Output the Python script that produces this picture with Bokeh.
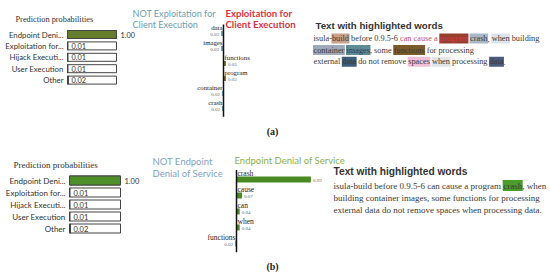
from bokeh.plotting import figure
from bokeh.models import Range1d, ColumnDataSource
from bokeh.embed import file_html
from bokeh.resources import INLINE
from bokeh.core.properties import value

# ---------------- data ----------------
prob_classes = ["Endpoint Deni...", "Exploitation for...", "Hijack Executi...", "User Execution", "Other"]
prob_a = [1.00, 0.01, 0.01, 0.01, 0.02]
prob_b = [1.00, 0.01, 0.01, 0.01, 0.02]

feat_a_words = ["data", "images", "functions", "program", "container", "crash"]
feat_a_vals = [-0.03, -0.03, 0.03, 0.03, -0.02, -0.02]
feat_a_titles = (["NOT Exploitation for", "Client Execution"], ["Exploitation for", "Client Execution"])

feat_b_words = ["crash", "cause", "can", "when", "functions"]
feat_b_vals = [0.93, 0.07, 0.04, 0.04, -0.02]
feat_b_titles = (["NOT Endpoint", "Denial of Service"], ["Endpoint Denial of Service"])

para_a = ["isula-build before 0.9.5-6 can cause a program crash, when building",
          "container images, some functions for processing",
          "external data do not remove spaces when processing data."]
hl_a = [(0, "build", 0, "#c9a28c"), (0, "program", 0, "#94402f"), (0, "crash", 0, "#a9b8c6"),
        (0, "when", 0, "#dde3ea"), (1, "container", 0, "#9ea9b9"), (1, "images", 0, "#5e8b96"),
        (1, "functions", 0, "#7d5a2c"), (2, "data", 0, "#3f5b7a"), (2, "spaces", 0, "#f2c0d6"),
        (2, "when", 0, "#e2e4e8"), (2, "data", 1, "#4b5b7c")]
fg_a = [(0, "can cause a", 0, "#c45070"), (0, "program", 0, "#d83a4a")]

para_b = ["isula-build before 0.9.5-6 can cause a program crash, when",
          "building container images, some functions for processing",
          "external data do not remove spaces when processing data."]
hl_b = [(0, "crash", 0, "#4c9c2a")]
fg_b = []

# ---------------- canvas ----------------
W, H = 550, 276
OX, OY = 0, 0

p = figure(width=W, height=H, x_range=Range1d(0, W), y_range=Range1d(H, 0),
           output_backend="svg", toolbar_location=None, min_border=0,
           x_axis_location=None, y_axis_location=None, outline_line_color=None)
p.grid.visible = False
p.background_fill_color = "white"
p.border_fill_color = "white"

SERIF = value("Liberation Serif")
SANS = value("Lato")
ARIAL = value("Liberation Sans")
DARK = "#333333"


def xr(px0, ppu):
    return Range1d(start=(0 - px0) / ppu, end=(W - px0) / ppu)


def yr(py0, dy):
    return Range1d(start=(H - py0) / dy, end=(0 - py0) / dy)


def label(x, y, txt, size, color=DARK, font=SANS, style="normal", align="left"):
    p.text(x=[x - OX], y=[y - OY], text=[txt], text_font=font, text_font_size=f"{size}px",
           text_color=color, text_font_style=style, text_align=align, text_baseline="middle")


def prob_chart(key, vals, zero_x, ppu, y0, dy, bar_h, fill, title_xy, title_size, lab_size):
    p.extra_x_ranges[key + "x"] = xr(zero_x - OX, ppu)
    p.extra_y_ranges[key + "y"] = yr(y0 - OY, dy)
    n = len(vals)
    src = ColumnDataSource(dict(
        y=list(range(n)), v=vals, full=[1.0] * n, lab=prob_classes,
        txt=[f"{v:.2f}" for v in vals],
        tx=[1.0 if v > 0.5 else 0.0 for v in vals],
    ))
    kw = dict(source=src, x_range_name=key + "x", y_range_name=key + "y")
    p.hbar(y="y", left=0, right="full", height=bar_h / dy, fill_color="white",
           line_color="#444444", line_width=1, **kw)
    p.hbar(y="y", left=0, right="v", height=bar_h / dy, fill_color=fill,
           line_color="#444444", line_width=1, **kw)
    p.text(x=0, y="y", text="lab", x_offset=-4, text_align="right", text_baseline="middle",
           text_font=SANS, text_font_size=f"{lab_size}px", text_color=DARK, **kw)
    p.text(x="tx", y="y", text="txt", x_offset=4, text_align="left", text_baseline="middle",
           text_font=SANS, text_font_size=f"{lab_size - 0.5}px", text_color=DARK, **kw)
    label(title_xy[0], title_xy[1], "Prediction probabilities", title_size, font=SERIF)


def feat_chart(key, words, vals, axis_x, ppu, y0, dy, bar_h, pos_c, neg_c, lab_size):
    p.extra_x_ranges[key + "x"] = xr(axis_x - OX, ppu)
    p.extra_y_ranges[key + "y"] = yr(y0 - OY, dy)
    n = len(vals)
    src = ColumnDataSource(dict(
        y=list(range(n)), v=vals, w=words,
        col=[pos_c if v > 0 else neg_c for v in vals],
        al=["left" if v > 0 else "right" for v in vals],
        lo=[1 if v > 0 else -1 for v in vals],
        vo=[2 if v > 0 else -2 for v in vals],
        txt=[f"{abs(v):.2f}" for v in vals],
    ))
    kw = dict(source=src, x_range_name=key + "x", y_range_name=key + "y")
    p.hbar(y="y", left=0, right="v", height=bar_h / dy, fill_color="col", line_color=None, **kw)
    p.segment(x0=[0], y0=[-0.6], x1=[0], y1=[n - 0.45], line_color="#111111", line_width=1.5,
              x_range_name=key + "x", y_range_name=key + "y")
    p.text(x=0, y="y", text="w", x_offset="lo", y_offset=-6, text_align="al",
           text_baseline="middle", text_font=SERIF, text_font_size=f"{lab_size}px",
           text_color="#222222", **kw)
    p.text(x="v", y="y", text="txt", x_offset="vo", y_offset=1, text_align="al",
           text_baseline="middle", text_font=SERIF, text_font_size="5px",
           text_color="#666666", **kw)


TIMES = {' ': 250, '-': 333, '.': 250, ',': 250,
         'a': 444, 'b': 500, 'c': 444, 'd': 500, 'e': 444, 'f': 333, 'g': 500, 'h': 500,
         'i': 278, 'j': 278, 'k': 500, 'l': 278, 'm': 778, 'n': 500, 'o': 500, 'p': 500,
         'q': 500, 'r': 333, 's': 389, 't': 278, 'u': 500, 'v': 500, 'w': 722, 'x': 500,
         'y': 500, 'z': 444}


def tw(s):
    return sum(TIMES.get(c, 500) for c in s) / 1000.0


def find_occ(line, word, occ):
    pos = -1
    for _ in range(occ + 1):
        pos = line.find(word, pos + 1)
    return pos


def para(lines, hls, fgs, x0, y0, dy, fs, title_xy, title_size):
    label(title_xy[0], title_xy[1], "Text with highlighted words", title_size, font=ARIAL, style="bold")
    tx, ty, tt, tc = [], [], [], []
    rx, ry, rw, rc = [], [], [], []
    for li, line in enumerate(lines):
        bg = [None] * len(line)
        fg = ["#3a3a3a"] * len(line)
        for (l, word, occ, col) in hls:
            if l == li:
                s = find_occ(line, word, occ)
                for k in range(s, s + len(word)):
                    bg[k] = col
                x = x0 - OX + tw(line[:s]) * fs
                w = tw(word) * fs
                rx.append(x + w / 2)
                ry.append(y0 - OY + li * dy)
                rw.append(w + 1)
                rc.append(col)
        for (l, word, occ, col) in fgs:
            if l == li:
                s = find_occ(line, word, occ)
                for k in range(s, s + len(word)):
                    fg[k] = col
        start = 0
        for k in range(1, len(line) + 1):
            if k == len(line) or (bg[k], fg[k]) != (bg[start], fg[start]):
                seg = line[start:k]
                lead = len(seg) - len(seg.lstrip())
                if seg.strip():
                    tx.append(x0 - OX + tw(line[:start + lead]) * fs)
                    ty.append(y0 - OY + li * dy)
                    tt.append(seg.strip())
                    tc.append(fg[start])
                start = k
    p.rect(x=rx, y=ry, width=rw, height=fs * 1.2, fill_color=rc, line_color=None)
    p.text(x=tx, y=ty, text=tt, text_color=tc, text_font=SERIF, text_font_size=f"{fs}px",
           text_align="left", text_baseline="middle")


# ---------------- panel (a) ----------------
prob_chart("pa", prob_a, 67, 49, 34, 11.4, 8, "#667d2c", (15, 19), 8.3, 7.8)
feat_chart("fa", feat_a_words, feat_a_vals, 223, 80, 33, 15, 5, "#7b6a26", "#6da0b4", 6.8)
label(132, 13, feat_a_titles[0][0], 9.1, color="#6da0b4")
label(132, 24, feat_a_titles[0][1], 9.1, color="#6da0b4")
label(225, 13, feat_a_titles[1][0], 9.6, color="#d8323f", style="bold")
label(225, 24, feat_a_titles[1][1], 9.6, color="#d8323f", style="bold")
para(para_a, hl_a, fg_a, 313, 38, 11.6, 8.3, (315, 25), 9.7)
label(272, 131, "(a)", 10, color="#222222", font=SERIF, style="bold", align="center")

# ---------------- panel (b) ----------------
prob_chart("pb", prob_b, 69, 51, 180, 12, 9, "#4f8f2a", (13, 164), 9, 8)
feat_chart("fb", feat_b_words, feat_b_vals, 236, 80, 179, 16, 6, "#4a8a22", "#7fa2cc", 7.5)
label(152, 161, feat_b_titles[0][0], 9.5, color="#7fa2cc")
label(152, 173, feat_b_titles[0][1], 9.5, color="#7fa2cc")
label(234, 160, feat_b_titles[1][0], 9.5, color="#88b04b")
para(para_b, hl_b, fg_b, 333, 185, 12, 9, (333, 171), 10.2)
label(272, 266, "(b)", 10, color="#222222", font=SERIF, style="bold", align="center")

open("out.html", "w").write(file_html(p, INLINE))
